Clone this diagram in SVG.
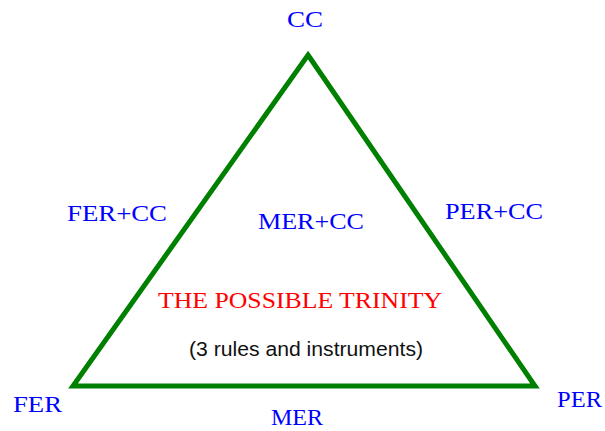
<svg xmlns="http://www.w3.org/2000/svg" width="605" height="431" viewBox="0 0 605 431">
<style>
.lbl{font-family:"Liberation Serif","Times New Roman",serif;font-size:23.5px;fill:#0000ff}
.title{font-family:"Liberation Serif","Times New Roman",serif;font-size:24px;fill:#ff0000}
.sub{font-family:"Liberation Sans",Arial,sans-serif;font-size:19.5px;fill:#111111}
.edge{fill:none;stroke:#008000;stroke-width:5;stroke-linejoin:miter}
</style>
<rect width="605" height="431" fill="#ffffff"/>
<g id="connectors">
<polygon class="edge" points="308,55 535,386 73,386"/>
</g>
<g id="node-cc"><text class="lbl" x="287" y="27" textLength="36" lengthAdjust="spacingAndGlyphs">CC</text></g>
<g id="node-fer"><text class="lbl" x="13" y="412" textLength="49" lengthAdjust="spacingAndGlyphs">FER</text></g>
<g id="node-per"><text class="lbl" x="557" y="407" textLength="45" lengthAdjust="spacingAndGlyphs">PER</text></g>
<g id="node-mer"><text class="lbl" x="271" y="425" textLength="52" lengthAdjust="spacingAndGlyphs">MER</text></g>
<g id="node-fercc"><text class="lbl" x="67" y="221" textLength="100" lengthAdjust="spacingAndGlyphs">FER+CC</text></g>
<g id="node-mercc"><text class="lbl" x="258" y="229" textLength="106" lengthAdjust="spacingAndGlyphs">MER+CC</text></g>
<g id="node-percc"><text class="lbl" x="445" y="219" textLength="98" lengthAdjust="spacingAndGlyphs">PER+CC</text></g>
<g id="node-title">
<text class="title" x="158" y="308" textLength="284" lengthAdjust="spacingAndGlyphs">THE POSSIBLE TRINITY</text>
<text class="sub" x="189" y="356" textLength="234" lengthAdjust="spacingAndGlyphs">(3 rules and instruments)</text>
</g>
</svg>
